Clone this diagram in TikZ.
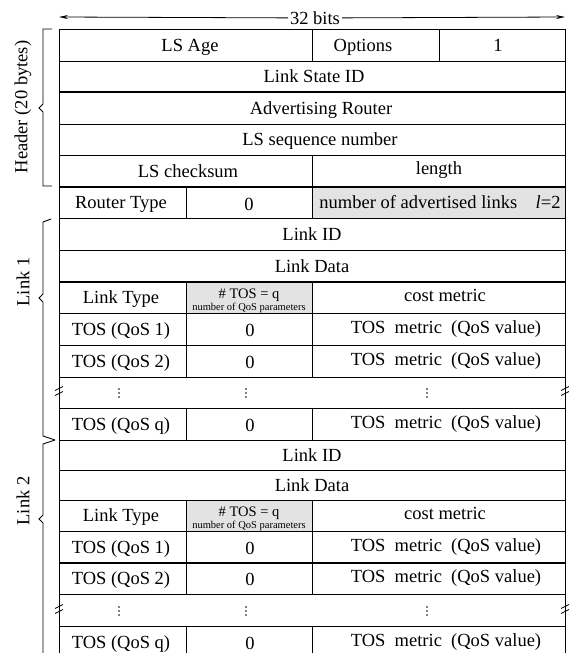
\documentclass[tikz,border=0pt]{standalone}
\usepackage{fontspec}
\setmainfont{Liberation Serif}
\usetikzlibrary{arrows.meta}
\begin{document}
\begin{tikzpicture}[x=1pt,y=-1pt,
  grid/.style={line width=0.9pt},
  heavy/.style={line width=1.7pt},
  cell/.style={font=\fontsize{18.5}{20}\selectfont, inner sep=0pt, anchor=base},
  mid/.style={font=\fontsize{14.5}{16}\selectfont, inner sep=0pt, anchor=base},
  tiny/.style={font=\fontsize{10.5}{12}\selectfont, inner sep=0pt, anchor=base},
  side/.style={font=\fontsize{18.5}{20}\selectfont, inner sep=0pt, rotate=90},
  vdot/.style={minimum width=3pt, minimum height=12pt, inner sep=0pt,
    path picture={\foreach \k in {-4,0,4}
      \fill (path picture bounding box.center) ++(0,\k) circle (0.9pt);}},
  brace/.style={line width=0.9pt, line join=miter},
  graycell/.style={fill=black!11},
  tip/.style={-{Stealth[length=9pt,width=4pt]}, line width=0.8pt}]
\useasboundingbox (0,0) rectangle (571,653);
\clip (0,0) rectangle (571,653);

% gray cells
\fill[graycell] (312,187) rectangle (565,218);
\fill[graycell] (186,282) rectangle (312,313);
\fill[graycell] (186,500) rectangle (312,531);

% horizontal rules
\foreach \y in {29,61,124,155,218,250,313,345,377,408,440,470,500,531,594,626}
  \draw[grid] (59,\y) -- (565,\y);
\foreach \y in {92,187,282,563}
  \draw[heavy] (59,\y) -- (565,\y);

% outer verticals
\draw[grid] (59,29) -- (59,660);
\draw[grid] (565,29) -- (565,660);

% inner verticals
\draw[grid] (312,29) -- (312,61);
\draw[grid] (439,29) -- (439,61);
\draw[grid] (312,155) -- (312,218);
\draw[grid] (186,187) -- (186,218);
\foreach \a/\b in {282/377,408/440,500/594,626/660}{
  \draw[grid] (186,\a) -- (186,\b);
  \draw[grid] (312,\a) -- (312,\b);
}

% top arrow
\coordinate (aL) at (59,17);
\coordinate (aR) at (565,17);
\node[font=\fontsize{18.5}{20}\selectfont, fill=white, inner sep=2pt] (bits) at (315,18) {32 bits};
\draw[tip] (bits) -- (aL);
\draw[tip] (bits) -- (aR);

% header
\node[cell] (lsage) at (190,51) {LS Age};
\node[cell] (opt) at (363,51) {Options};
\node[cell] (one) at (498,51) {1};
\node[cell] (lsid) at (314,82.5) {Link State ID};
\node[cell] (advr) at (321,114) {Advertising Router};
\node[cell] (lsseq) at (320,145.5) {LS sequence number};
\node[cell] (cks) at (188,177) {LS checksum};
\node[cell] (len) at (439,174) {length};
\node[cell] (rtype) at (121,208.5) {Router Type};
\node[cell] (rz) at (249,210) {0};
\node[cell] (nadv) at (440,208.5) {number of advertised links\quad\textit{l}=2};

% link 1
\node[cell] (lid1) at (312,240) {Link ID};
\node[cell] (ldat1) at (312,272) {Link Data};
\node[cell] (ltyp1) at (121,303.5) {Link Type};
\node[mid] (ntos1) at (249,298) {\# TOS = q};
\node[tiny] (nqos1) at (249,310) {number of QoS parameters};
\node[cell] (cost1) at (445,301) {cost metric};
\node[cell] (tosa1) at (121,335) {TOS (QoS 1)};
\node[cell] (za1) at (250,336) {0};
\node[cell] (ma1) at (446,333) {TOS\ \ metric\ \ (QoS value)};
\node[cell] (tosb1) at (121,367) {TOS (QoS 2)};
\node[cell] (zb1) at (250,368) {0};
\node[cell] (mb1) at (446,365) {TOS\ \ metric\ \ (QoS value)};
\node[vdot] (da1) at (119,393) {};
\node[vdot] (db1) at (246,393) {};
\node[vdot] (dc1) at (427,393) {};
\node[cell] (tosq1) at (121,430) {TOS (QoS q)};
\node[cell] (zq1) at (250,431) {0};
\node[cell] (mq1) at (446,428) {TOS\ \ metric\ \ (QoS value)};

% link 2
\node[cell] (lid2) at (312,461) {Link ID};
\node[cell] (ldat2) at (312,491.5) {Link Data};
\node[cell] (ltyp2) at (121,521.5) {Link Type};
\node[mid] (ntos2) at (249,516) {\# TOS = q};
\node[tiny] (nqos2) at (249,528) {number of QoS parameters};
\node[cell] (cost2) at (445,519) {cost metric};
\node[cell] (tosa2) at (121,553) {TOS (QoS 1)};
\node[cell] (za2) at (250,554) {0};
\node[cell] (ma2) at (446,551) {TOS\ \ metric\ \ (QoS value)};
\node[cell] (tosb2) at (121,584.5) {TOS (QoS 2)};
\node[cell] (zb2) at (250,585.5) {0};
\node[cell] (mb2) at (446,582.5) {TOS\ \ metric\ \ (QoS value)};
\node[vdot] (da2) at (119,611) {};
\node[vdot] (db2) at (246,611) {};
\node[vdot] (dc2) at (427,611) {};
\node[cell] (tosq2) at (121,648) {TOS (QoS q)};
\node[cell] (zq2) at (250,649) {0};
\node[cell] (mq2) at (446,646) {TOS\ \ metric\ \ (QoS value)};

% side labels
\node[side] (hdr) at (23,107) {Header (20 bytes)};
\node[side] (lk1) at (23,282) {Link 1};
\node[side] (lk2) at (23,501) {Link 2};

% braces
\draw[brace] (52,29) -- (43,29) -- (43,104) -- (39,108) -- (43,112) -- (43,186) -- (52,186);
\draw[brace] (51,219) -- (43,222) -- (43,294) -- (39,298) -- (43,302) -- (43,436) -- (55,440);
\draw[brace] (55,440) -- (43,444) -- (43,515) -- (39,519) -- (43,523) -- (43,660);

% break marks
\foreach \bx/\by in {59/391,565/391,59/609,565/609}{
  \draw[line width=0.8pt] (\bx-4,\by-0.5) -- (\bx+4,\by-4.5);
  \draw[line width=0.8pt] (\bx-4,\by+4.5) -- (\bx+4,\by+0.5);
}
\end{tikzpicture}
\end{document}
